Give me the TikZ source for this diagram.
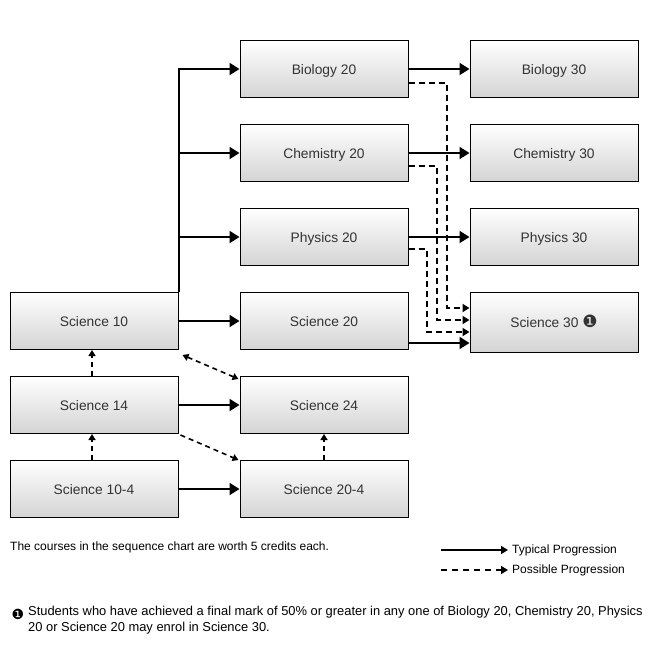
\documentclass[tikz,border=0pt]{standalone}
\usepackage{fontspec}
\setmainfont{Liberation Sans}
\newfontfamily\symfont{DejaVu Sans}
\usetikzlibrary{arrows.meta}

\begin{document}
\begin{tikzpicture}[x=1pt, y=-1pt,
    course/.style={draw, line width=1pt, top color=white, bottom color=black!17,
        minimum width=168pt, minimum height=57pt, inner sep=0pt,
        text height=11.6pt, text depth=0pt,
        text=black!80, font=\fontsize{13.8}{16}\selectfont},
    typical/.style={line width=2pt, -{Triangle[length=10pt,width=12pt]}},
    possible/.style={line width=2pt, dash pattern=on 6pt off 4pt, -{Triangle[length=7pt,width=8pt]}},
    possmall/.style={line width=1.6pt, dash pattern=on 5pt off 4pt, -{Triangle[length=6pt,width=7pt]}},
    note/.style={font=\fontsize{12}{16}\selectfont, inner sep=0pt}]
    \useasboundingbox (0,0) rectangle (663,661);
    % course boxes
    \node[course] (bio20) at (324,69) {Biology 20};
    \node[course] (chem20) at (324,153) {Chemistry 20};
    \node[course] (phys20) at (324,237) {Physics 20};
    \node[course] (sci20) at (324,321) {Science 20};
    \node[course] (sci24) at (324,405) {Science 24};
    \node[course] (sci204) at (324,489) {Science 20-4};
    \node[course] (sci10) at (94,321) {Science 10};
    \node[course] (sci14) at (94,405) {Science 14};
    \node[course] (sci104) at (94,489) {Science 10-4};
    \node[course] (bio30) at (554,69) {Biology 30};
    \node[course] (chem30) at (554,153) {Chemistry 30};
    \node[course] (phys30) at (554,237) {Physics 30};
    \node[course, minimum height=60pt] (sci30) at (554,322) {Science 30 {\symfont\fontsize{17}{16}\selectfont\raisebox{0.5pt}{❶}}};
    % typical progression
    \draw[typical] (sci10.north east) |- (bio20.west);
    \draw[typical] (sci10.north east |- chem20.west) -- (chem20.west);
    \draw[typical] (sci10.north east |- phys20.west) -- (phys20.west);
    \draw[typical] (sci10) -- (sci20);
    \draw[typical] (sci14) -- (sci24);
    \draw[typical] (sci104) -- (sci204);
    \draw[typical] (bio20) -- (bio30);
    \draw[typical] (chem20) -- (chem30);
    \draw[typical] (phys20) -- (phys30);
    \draw[typical] ([yshift=-22pt]sci20.east) -- ([yshift=-22pt]sci20.east -| sci30.west);
    % possible progression
    \draw[possible] ([yshift=-14pt]bio20.east) -| ([xshift=-23pt,yshift=14pt]sci30.west) -- ([yshift=14pt]sci30.west);
    \draw[possible] ([yshift=-13pt]chem20.east) -| ([xshift=-33pt,yshift=2pt]sci30.west) -- ([yshift=2pt]sci30.west);
    \draw[possible] ([yshift=-12pt]phys20.east) -| ([xshift=-43pt,yshift=-10pt]sci30.west) -- ([yshift=-10pt]sci30.west);
    \draw[possmall] ([xshift=-2pt]sci14.north) -- ([xshift=-2pt]sci10.south);
    \draw[possmall] ([xshift=-2pt]sci104.north) -- ([xshift=-2pt]sci14.south);
    \draw[possmall] (sci204.north) -- (sci24.south);
    \draw[possmall, {Triangle[length=6pt,width=7pt]}-{Triangle[length=6pt,width=7pt]}] ([shift={(4pt,-5pt)}]sci10.south east) -- ([shift={(-1pt,-3pt)}]sci24.north west);
    \draw[possmall] ([shift={(2pt,-1pt)}]sci14.south east) -- ([shift={(-1pt,0pt)}]sci204.north west);
    % notes and legend
    \node[note, anchor=west] (credits) at (10,547) {The courses in the sequence chart are worth 5 credits each.};
    \coordinate (typA) at (441,550);
    \coordinate (typB) at (508,550);
    \coordinate (posA) at (441,570);
    \coordinate (posB) at (508,570);
    \draw[line width=1.6pt, -{Triangle[length=7pt,width=8pt]}] (typA) -- (typB);
    \draw[line width=1.6pt, dash pattern=on 6pt off 5pt, -{Triangle[length=7pt,width=8pt]}] (posA) -- (posB);
    \node[note, anchor=west] (typtxt) at ([xshift=4pt]typB) {Typical Progression};
    \node[note, anchor=west] (postxt) at ([xshift=4pt]posB) {Possible Progression};
    \node[note, anchor=center] (mark) at (18,614) {\symfont\fontsize{14}{16}\selectfont ❶};
    \node[note, anchor=north west, align=left, font=\fontsize{12.9}{16}\selectfont] (footnote) at (28,606) {Students who have achieved a final mark of 50\% or greater in any one of Biology 20, Chemistry 20, Physics\\20 or Science 20 may enrol in Science 30.};
\end{tikzpicture}
\end{document}
